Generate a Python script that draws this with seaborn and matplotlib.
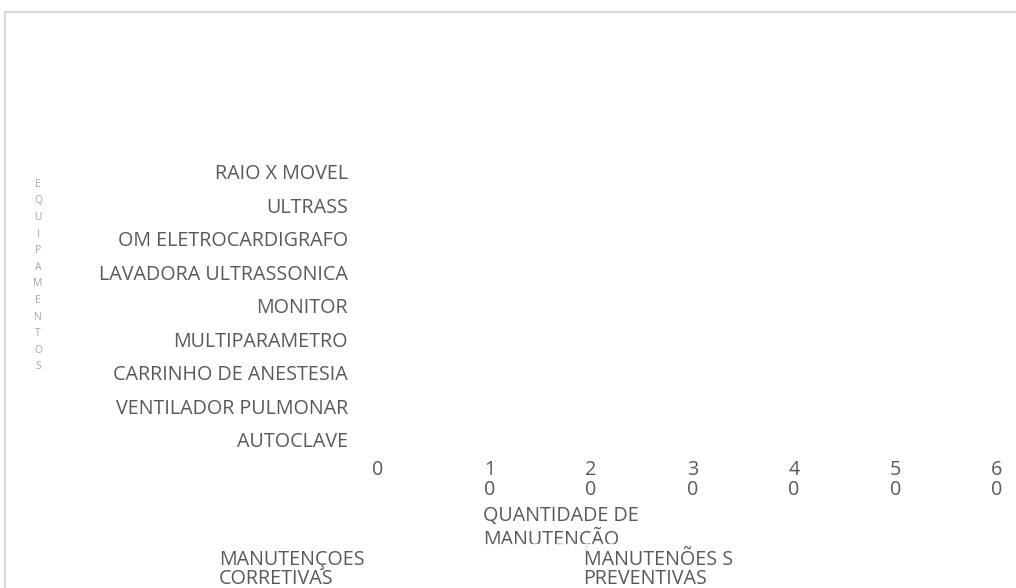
import matplotlib
matplotlib.use("Agg")
import matplotlib.pyplot as plt
import matplotlib.patches as mpatches
import matplotlib.transforms as mtransforms
import pandas as pd
import seaborn as sns

equipamentos = ["RAIO X MOVEL", "ULTRASS", "OM ELETROCARDIGRAFO",
                "LAVADORA ULTRASSONICA", "MONITOR", "MULTIPARAMETRO",
                "CARRINHO DE ANESTESIA", "VENTILADOR PULMONAR", "AUTOCLAVE"]
corretivas = [0, 0, 0, 0, 0, 0, 0, 0, 0]
preventivas = [0, 0, 0, 0, 0, 0, 0, 0, 0]
series_names = ["MANUTENÇOES\nCORRETIVAS", "MANUTENÕES S\nPREVENTIVAS"]
x_ticks = [0, 10, 20, 30, 40, 50, 60]

sns.set_style("white")
plt.rcParams["font.family"] = ["Open Sans", "DejaVu Sans"]
GREY = "#595959"
FS = 14.2

df = pd.DataFrame({
    "equipamento": equipamentos * 2,
    "qtd": corretivas + preventivas,
    "serie": [series_names[0]] * len(equipamentos) + [series_names[1]] * len(equipamentos),
})

fig = plt.figure(figsize=(10.16, 5.88), dpi=100)
ax = fig.add_axes([0.382, 0.224, 0.599, 0.512])
sns.barplot(data=df, x="qtd", y="equipamento", hue="serie", orient="h",
            palette=["#4472c4", "#ed7d31"], ax=ax)
handles, labels = ax.get_legend_handles_labels()
ax.get_legend().remove()

ax.set_xlim(0, 60)
ax.set_xticks(x_ticks)
ax.set_xticklabels(["\n".join(str(t)) for t in x_ticks], color=GREY, fontsize=FS,
                   linespacing=0.95)
ax.tick_params(axis="x", length=0, pad=3)
ax.tick_params(axis="y", length=0, pad=29, labelsize=FS, labelcolor=GREY)
# the single "0" sits a little left of its tick in the original
first = ax.get_xticklabels()[0]
first.set_transform(first.get_transform() +
                    mtransforms.ScaledTranslation(-10 / 100, 0, fig.dpi_scale_trans))
for s in ax.spines.values():
    s.set_visible(False)

ax.set_xlabel("QUANTIDADE DE\nMANUTENÇÃO", color=GREY, fontsize=FS,
              ha="left", linespacing=1.05)
ax.xaxis.set_label_coords(0.156, -0.165)
ax.set_ylabel("\n".join("EQUIPAMENTOS"), color="#a6a6a6", fontsize=7.5,
              rotation=0, va="center", linespacing=1.7)
ax.yaxis.set_label_coords(-0.575, 0.6)

for h in handles:
    h.set_visible(False)
leg = fig.legend(handles, labels, ncol=2, loc="upper left",
                 bbox_to_anchor=(0.2, 0.091), handlelength=0, handletextpad=0,
                 columnspacing=11.1, fontsize=FS, frameon=True, borderpad=0.3)
leg.get_frame().set_facecolor("white")
leg.get_frame().set_edgecolor("white")
for t in leg.get_texts():
    t.set_color(GREY)
    t.set_linespacing(0.9)

fig.patches.append(mpatches.Rectangle((5 / 1016, -0.1), 1.1, 1 - 12 / 588 + 0.1,
                                      transform=fig.transFigure, fill=False,
                                      edgecolor="#d9d9d9", lw=1.5))

fig.savefig("out.png", dpi=100)
